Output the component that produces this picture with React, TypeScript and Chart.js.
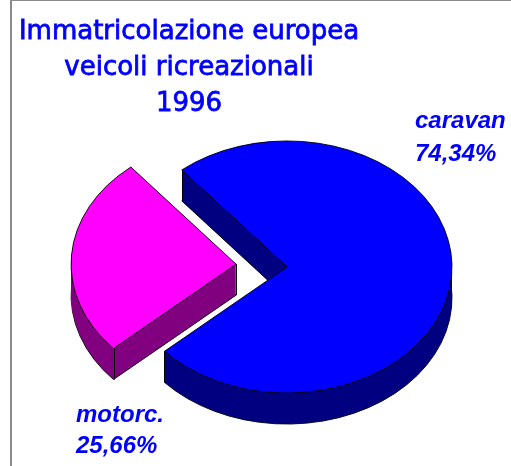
import React, { useEffect, useRef } from "react";
import { Chart, registerables } from "chart.js";

Chart.register(...registerables);

const categories = ["motorc.", "caravan"];
const shares = [25.66, 74.34];
const shareLabels = ["25,66%", "74,34%"];
const titleLines = ["Immatricolazione europea", "veicoli ricreazionali", "1996"];

const topColors = ["#ff00ff", "#0000ff"];
const sideColors = ["#800080", "#000080"];
const offsets = [204, 0];

const SQUASH = 0.764;
const DEPTH = 31;

const pie3d = {
  id: "pie3d",
  beforeDraw(chart: any) {
    const ctx = chart.ctx;
    ctx.save();
    ctx.fillStyle = "#8a8a8a";
    ctx.fillRect(10, 0, 2, chart.height);
    ctx.fillRect(10, 0, chart.width - 10, 1);
    ctx.restore();
  },
  beforeDatasetsDraw(chart: any) {
    const ctx = chart.ctx;
    const arcs = chart.getDatasetMeta(0).data;
    if (!arcs.length) return;
    const cx = arcs[0].x;
    const cy = arcs[0].y;
    const squash = () => {
      ctx.translate(cx, cy);
      ctx.scale(1, SQUASH);
      ctx.translate(-cx, -cy);
    };
    for (let d = DEPTH; d >= 1; d--) {
      ctx.save();
      ctx.translate(0, d);
      squash();
      arcs.forEach((arc: any, i: number) => {
        const orig = arc.options;
        arc.options = Object.assign({}, orig, {
          backgroundColor: sideColors[i],
          borderColor: d === DEPTH ? "#000000" : sideColors[i],
          borderWidth: d === DEPTH ? 1 : 0,
        });
        arc.draw(ctx);
        arc.options = orig;
      });
      ctx.restore();
    }
    // vertical edges
    ctx.save();
    ctx.strokeStyle = "#000000";
    ctx.lineWidth = 1;
    arcs.forEach((arc: any) => {
      const off = (arc.options.offset || 0) / 4;
      const h = (arc.startAngle + arc.endAngle) / 2;
      const ox = arc.x + Math.cos(h) * off;
      const oy = arc.y + Math.sin(h) * off;
      const pts = [
        [ox, oy],
        [ox + Math.cos(arc.startAngle) * arc.outerRadius, oy + Math.sin(arc.startAngle) * arc.outerRadius],
        [ox + Math.cos(arc.endAngle) * arc.outerRadius, oy + Math.sin(arc.endAngle) * arc.outerRadius],
      ];
      pts.forEach(([px, py]) => {
        const sx = Math.round(px) + 0.5;
        const sy = cy + (py - cy) * SQUASH;
        ctx.beginPath();
        ctx.moveTo(sx, sy);
        ctx.lineTo(sx, sy + DEPTH);
        ctx.stroke();
      });
    });
    ctx.restore();
    ctx.save();
    squash();
  },
  afterDatasetsDraw(chart: any) {
    chart.ctx.restore();
  },
  afterDraw(chart: any) {
    const ctx = chart.ctx;
    ctx.save();
    ctx.fillStyle = "#0000ff";
    ctx.strokeStyle = "#0000ff";
    ctx.lineWidth = 0.8;
    ctx.textAlign = "center";
    ctx.textBaseline = "alphabetic";
    ctx.font = '26px "DejaVu Sans"';
    const baselines = [39, 75, 111];
    titleLines.forEach((t, i) => {
      ctx.fillText(t, 189, baselines[i]);
      ctx.strokeText(t, 189, baselines[i]);
    });
    ctx.textAlign = "left";
    ctx.font = 'italic bold 24px "Liberation Sans"';
    // caravan label
    ctx.fillText(categories[1], 415, 128);
    ctx.fillText(shareLabels[1], 415, 161);
    // motorc label
    ctx.fillText(categories[0], 76, 422);
    ctx.fillText(shareLabels[0], 76, 453);
    ctx.restore();
  },
};

export default function App() {
  const ref = useRef<HTMLCanvasElement | null>(null);
  useEffect(() => {
    document.body.style.margin = "0";
    if (!ref.current) return;
    const chart = new Chart(ref.current, {
      type: "pie",
      data: {
        labels: categories,
        datasets: [
          {
            data: shares,
            backgroundColor: topColors,
            borderColor: "#000000",
            borderWidth: 1,
            offset: offsets,
            clip: false,
          } as any,
        ],
      },
      options: {
        responsive: false,
        animation: false,
        rotation: 228,
        radius: 165,
        layout: { padding: { left: 63, right: 0, top: 68, bottom: 0 } },
        plugins: {
          legend: { display: false },
          tooltip: { enabled: false },
          title: { display: false },
        },
      } as any,
      plugins: [pie3d],
    });
    return () => chart.destroy();
  }, []);
  return (
    <div style={{ width: 511, height: 466, background: "#ffffff" }}>
      <canvas ref={ref} width={511} height={466} />
    </div>
  );
}
